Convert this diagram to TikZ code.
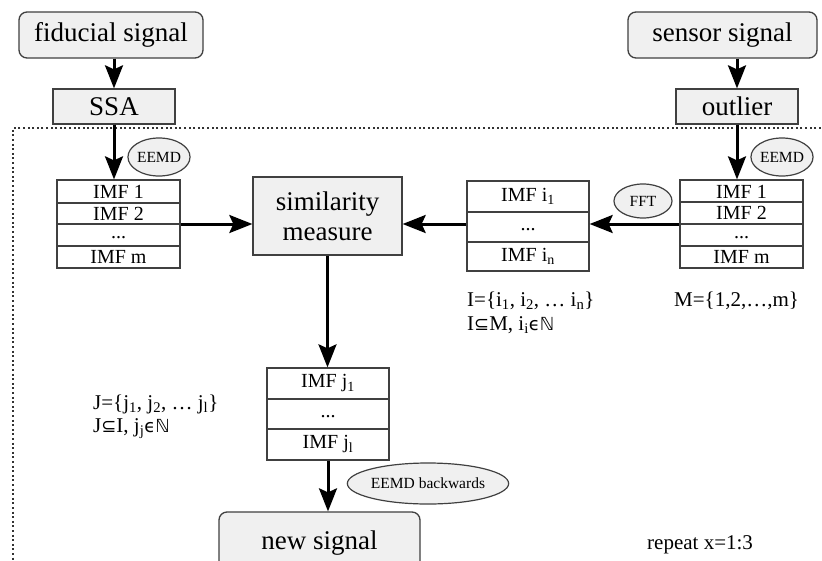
\documentclass[tikz,border=0pt]{standalone}
\usepackage{fontspec}
\setmainfont{Liberation Serif}
\newfontfamily\symfont{DejaVu Sans}
\usetikzlibrary{arrows.meta,shapes.geometric}
\tikzset{
  base/.style={draw=black!75, line width=1.3pt, fill=gray!12, text=black, inner sep=0pt},
  rbox/.style={base, rounded corners=8pt},
  sbox/.style={base},
  stackbox/.style={draw=black!75, line width=1.3pt, fill=white, inner sep=0pt},
  rowline/.style={draw=black!75, line width=1.3pt},
  ell/.style={ellipse, draw=black!75, line width=1.2pt, fill=gray!12, inner sep=0pt, text=black, font=\fontsize{15.5}{17}\selectfont},
  arr/.style={line width=3pt, -{Stealth[length=23pt,width=18pt,inset=4pt]}},
  big/.style={font=\fontsize{27}{30}\selectfont},
  imf/.style={font=\fontsize{20}{21}\selectfont, text=black, inner sep=0pt},
  note/.style={font=\fontsize{21}{24}\selectfont, text=black, inner sep=0pt, anchor=base west},
  frame/.style={draw=black!80, line width=2pt, dash pattern=on 2pt off 2.6pt},
}
\newcommand{\sy}[1]{{\symfont\fontsize{18}{20}\selectfont #1}}
\begin{document}
\begin{tikzpicture}[x=1pt,y=-1pt]
\useasboundingbox (0,0) rectangle (822,560);
\fill[white] (0,0) rectangle (822,560);

% dotted frame
\draw[frame] (830,128) -- (13,128) -- (13,570);

% top left
\node[rbox, big, minimum width=184pt, minimum height=46pt] (F) at (111,35) {fiducial signal};
\node[sbox, big, minimum width=122pt, minimum height=35pt] (SSA) at (114,106.5) {SSA};
% top right
\node[rbox, big, minimum width=189pt, minimum height=46pt] (SN) at (722.5,35) {sensor signal};
\node[sbox, big, minimum width=122pt, minimum height=35pt] (O) at (737,106.5) {outlier};

% left stack
\node[stackbox, minimum width=123pt, minimum height=88pt] (L) at (118.5,224) {};
\draw[rowline] (L.west |- 0,203) -- (L.east |- 0,203);
\draw[rowline] (L.west |- 0,224) -- (L.east |- 0,224);
\draw[rowline] (L.west |- 0,246) -- (L.east |- 0,246);
\node[imf] (L1) at (118.5,192) {IMF 1};
\node[imf] (L2) at (118.5,213.5) {IMF 2};
\node[imf] (L3) at (118.5,238) {...};
\node[imf] (L4) at (118.5,257) {IMF m};

% right stack
\node[stackbox, minimum width=123pt, minimum height=88pt] (R) at (741.5,224) {};
\draw[rowline] (R.west |- 0,202) -- (R.east |- 0,202);
\draw[rowline] (R.west |- 0,224) -- (R.east |- 0,224);
\draw[rowline] (R.west |- 0,246) -- (R.east |- 0,246);
\node[imf] (R1) at (741.5,191.5) {IMF 1};
\node[imf] (R2) at (741.5,213) {IMF 2};
\node[imf] (R3) at (741.5,238) {...};
\node[imf] (R4) at (741.5,257) {IMF m};

% middle stack
\node[stackbox, minimum width=122pt, minimum height=90pt] (M) at (528,226) {};
\draw[rowline] (M.west |- 0,212) -- (M.east |- 0,212);
\draw[rowline] (M.west |- 0,242) -- (M.east |- 0,242);
\node[imf] (M1) at (528,196) {IMF i\textsubscript{1}};
\node[imf] (M2) at (528,230) {...};
\node[imf] (M3) at (528,256) {IMF i\textsubscript{n}};

% similarity
\node[sbox, big, align=center, minimum width=149pt, minimum height=78pt] (S) at (327.5,216) {similarity\\measure};

% J stack
\node[stackbox, minimum width=122pt, minimum height=92pt] (J) at (328,414) {};
\draw[rowline] (J.west |- 0,399) -- (J.east |- 0,399);
\draw[rowline] (J.west |- 0,429) -- (J.east |- 0,429);
\node[imf] (J1) at (328,383.5) {IMF j\textsubscript{1}};
\node[imf] (J2) at (328,417) {...};
\node[imf] (J3) at (328,444.5) {IMF j\textsubscript{l}};

% new signal
\node[rbox, big, minimum width=201pt, minimum height=62pt] (N) at (319.5,543) {\raisebox{6pt}{new signal}};

% ellipses
\node[ell, minimum width=58pt, minimum height=38pt] (E1) at (159,157) {EEMD};
\node[ell, minimum width=58pt, minimum height=38pt] (E2) at (782,157) {EEMD};
\node[ell, minimum width=58pt, minimum height=34pt] (FFT) at (643,201) {FFT};
\node[ell, minimum width=158pt, minimum height=41pt] (EB) at (428,483.5) {EEMD backwards};

% notes
\node[note] (Itx) at (467,306) {I=\{i\textsubscript{1}, i\textsubscript{2}, … i\textsubscript{n}\}};
\node[note] (Itx2) at (467,330) {I\sy{⊆}M, i\textsubscript{i}\sy{ϵℕ}};
\node[note] (Mtx) at (674,306) {M=\{1,2,…,m\}};
\node[note] (Jtx) at (93,409) {J=\{j\textsubscript{1}, j\textsubscript{2}, … j\textsubscript{l}\}};
\node[note] (Jtx2) at (93,432) {J\sy{⊆}I, j\textsubscript{j}\sy{ϵℕ}};
\node[note] (rep) at (647,549) {repeat x=1:3};

% connectors
\draw[arr] (SSA.north |- F.south) -- (SSA.north);
\draw[arr] (O.north |- SN.south) -- (O.north);
\draw[arr] (SSA.south) -- (SSA.south |- L.north);
\draw[arr] (O.south) -- (O.south |- R.north);
\draw[arr] (L.east) -- (S.west |- L.east);
\draw[arr] (R.west) -- (M.east |- R.west);
\draw[arr] (M.west |- R.west) -- (S.east |- R.west);
\draw[arr] (S.south) -- (S.south |- J.north);
\draw[arr] (J.south) -- (J.south |- N.north);
\end{tikzpicture}
\end{document}
